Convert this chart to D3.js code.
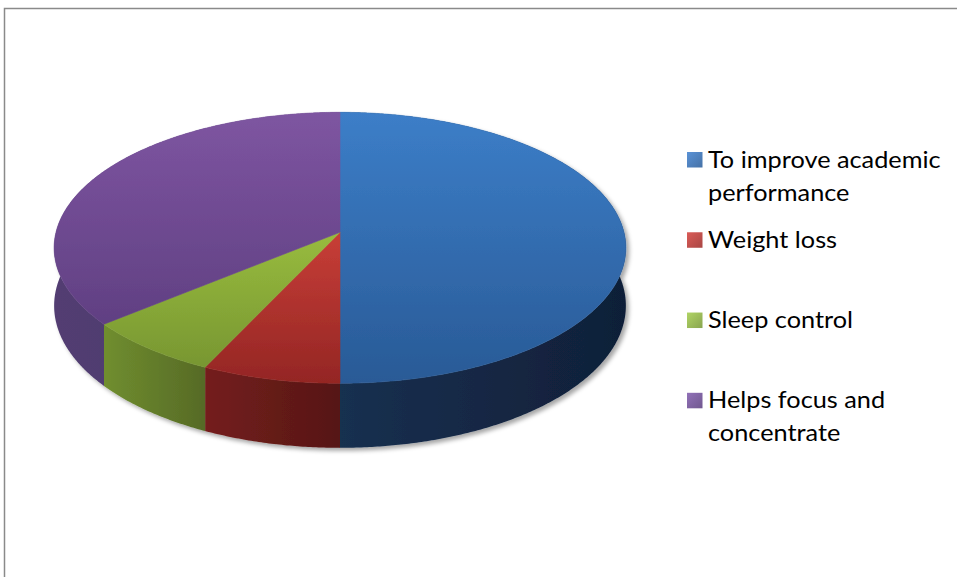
<!DOCTYPE html>
<html>
<head>
<meta charset="utf-8">
<script src="https://cdn.jsdelivr.net/npm/d3@7"></script>
<style>
  html, body { margin: 0; padding: 0; background: #ffffff; overflow: hidden; }
  svg { display: block; }
</style>
</head>
<body>
<svg id="chart" width="957" height="577"></svg>
<script>
// Reasons given, share of responses (%)
const categories = [
  "To improve academic performance",
  "Weight loss",
  "Sleep control",
  "Helps focus and concentrate"
];
const legendLines = [
  ["To improve academic", "performance"],
  ["Weight loss"],
  ["Sleep control"],
  ["Helps focus and", "concentrate"]
];
const values = [50, 7, 7, 36];

// Palette: legend swatch, top face (back -> front), side wall (left -> right)
const baseColors      = ["#4F81BD", "#C0504D", "#9BBB59", "#8064A2"];
const topBackColors   = ["rgb(60,126,200)", "rgb(241,81,70)",  "rgb(181,221,73)", "rgb(126,85,161)"];
const topFrontColors  = ["rgb(41,90,150)",  "rgb(148,38,36)",  "rgb(116,146,48)", "rgb(88,58,122)"];
const sideLeftColors  = ["rgb(23,48,80)",   "rgb(116,31,28)",  "rgb(112,142,47)", "rgb(82,62,114)"];
const sideRightColors = ["rgb(16,31,56)",   "rgb(86,22,22)",   "rgb(86,106,38)",  "rgb(72,52,106)"];

const svg = d3.select("#chart");
const defs = svg.append("defs");

// Outer frame of the chart area
svg.append("rect")
  .attr("x", 4.5).attr("y", 8.5)
  .attr("width", 1000).attr("height", 1000)
  .attr("fill", "none")
  .attr("stroke", "#8a8a8a")
  .attr("stroke-width", 1.5);

// --- 3D pie geometry (perspective-projected disc) ---
const cx = 340, cy = 232.3;      // projected pie centre
const R = 284;                   // horizontal radius
const B = 133.7;                 // vertical radius before perspective
const Dcam = 8.75;               // camera distance (in radii)
const thickness = 57.2;          // wall height
const yBack = 112.3, yFront = 382.7;

function project(angle, drop) {
  const X = Math.sin(angle);
  const Z = -Math.cos(angle);            // +1 = nearest the viewer
  const s = Dcam / (Dcam - Z);
  return [cx + R * X * s, cy + B * Z * s + drop * s];
}

const pie = d3.pie().sort(null).value(d => d)(values);
const line = d3.line();

function arcPoints(a0, a1, drop) {
  const n = Math.max(8, Math.ceil((a1 - a0) * 120));
  return d3.range(n + 1).map(i => project(a0 + (a1 - a0) * i / n, drop));
}

// Gradients
pie.forEach((p, i) => {
  const tg = defs.append("linearGradient")
    .attr("id", "top" + i)
    .attr("gradientUnits", "userSpaceOnUse")
    .attr("x1", 0).attr("x2", 0).attr("y1", yBack).attr("y2", yFront);
  tg.append("stop").attr("offset", 0).attr("stop-color", topBackColors[i]);
  tg.append("stop").attr("offset", 1).attr("stop-color", topFrontColors[i]);

  const sg = defs.append("linearGradient")
    .attr("id", "side" + i)
    .attr("x1", 0).attr("x2", 1).attr("y1", 0).attr("y2", 0);
  sg.append("stop").attr("offset", 0).attr("stop-color", sideLeftColors[i]);
  sg.append("stop").attr("offset", 1).attr("stop-color", sideRightColors[i]);

  const lg = defs.append("linearGradient")
    .attr("id", "key" + i)
    .attr("x1", 0).attr("x2", 1).attr("y1", 0).attr("y2", 1);
  lg.append("stop").attr("offset", 0).attr("stop-color", d3.color(baseColors[i]).brighter(0.35));
  lg.append("stop").attr("offset", 1).attr("stop-color", d3.color(baseColors[i]).darker(0.35));
});

const shadow = defs.append("filter").attr("id", "pieShadow")
  .attr("x", "-10%").attr("y", "-10%").attr("width", "120%").attr("height", "130%");
shadow.append("feDropShadow")
  .attr("dx", 3).attr("dy", 3)
  .attr("stdDeviation", 2.2)
  .attr("flood-color", "#000")
  .attr("flood-opacity", 0.35);

const pieG = svg.append("g").attr("filter", "url(#pieShadow)");

// Outer walls first, then top faces over them
pieG.selectAll("path.wall")
  .data(pie)
  .join("path")
  .attr("class", "wall")
  .attr("fill", (d, i) => "url(#side" + i + ")")
  .attr("d", d => {
    const topEdge = arcPoints(d.startAngle, d.endAngle, 0);
    const bottomEdge = arcPoints(d.startAngle, d.endAngle, thickness).reverse();
    return line(topEdge.concat(bottomEdge)) + "Z";
  });

pieG.selectAll("path.top")
  .data(pie)
  .join("path")
  .attr("class", "top")
  .attr("fill", (d, i) => "url(#top" + i + ")")
  .attr("stroke", (d, i) => "url(#top" + i + ")")
  .attr("stroke-width", 0.6)
  .attr("d", d => line([[cx, cy]].concat(arcPoints(d.startAngle, d.endAngle, 0))) + "Z");

// --- Legend ---
const legendY = d3.scaleLinear().domain([0, categories.length - 1]).range([167.5, 408.3]);
const legend = svg.append("g")
  .style("font-family", "Lato, 'Open Sans', sans-serif")
  .style("font-size", "22.5px")
  .attr("fill", "#000");

const items = legend.selectAll("g.item")
  .data(categories)
  .join("g")
  .attr("class", "item")
  .attr("transform", (d, i) => `translate(0,${legendY(i)})`);

items.append("rect")
  .attr("x", 687).attr("y", -15.5)
  .attr("width", 15.5).attr("height", 15.5)
  .attr("fill", (d, i) => "url(#key" + i + ")");

// Label text set slightly wide, anchored at the label's left edge
items.append("text")
  .attr("transform", "translate(708,0) scale(1.125,1)")
  .selectAll("tspan")
  .data((d, i) => legendLines[i])
  .join("tspan")
  .attr("x", 0)
  .attr("y", (d, j) => j * 33.2)
  .text(d => d);
</script>
</body>
</html>
